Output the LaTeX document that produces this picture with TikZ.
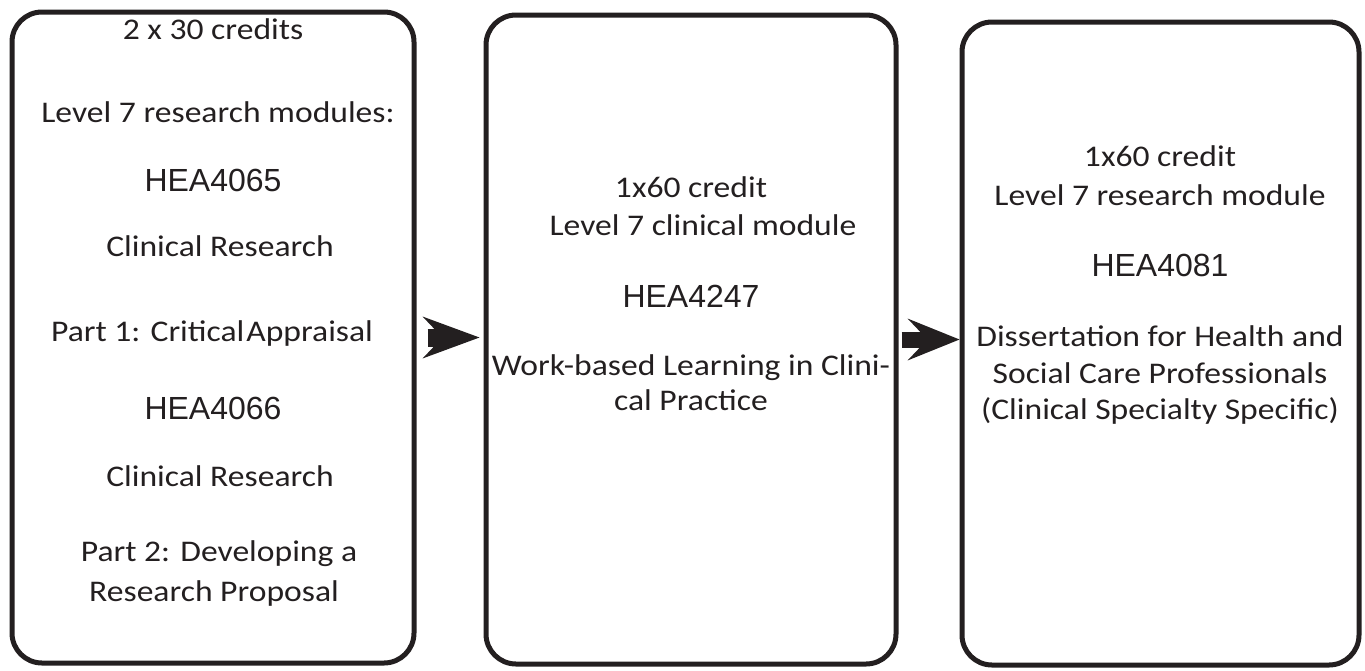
\documentclass[tikz,border=0pt]{standalone}
\usepackage{fontspec}
\setmainfont[FakeStretch=1.12]{Carlito}
\newfontfamily\arialf{Liberation Sans}
\usetikzlibrary{arrows.meta}
\definecolor{ink}{HTML}{231F20}
\tikzset{
  box/.style={draw=ink, line width=5pt, rounded corners=30pt, inner sep=0pt},
  txt/.style={anchor=base, text=ink, inner sep=0pt, font=\fontsize{30}{36}\selectfont},
  code/.style={anchor=base, text=ink, inner sep=0pt, font=\arialf\fontsize{32}{38}\selectfont},
  bigarrow/.style={draw=ink, -{Stealth[length=#1, width=42pt, inset=20pt, line width=0pt, fill=ink]}}
}
\begin{document}
\begin{tikzpicture}[x=1pt,y=-1pt]
\useasboundingbox (0,0) rectangle (1365,670);
% boxes
\node[box, minimum width=402pt, minimum height=651pt] (b1) at (213,337.5) {};
\node[box, minimum width=410pt, minimum height=649pt] (b2) at (691,339.5) {};
\node[box, minimum width=397pt, minimum height=643pt] (b3) at (1160.5,343.5) {};
% box 1 text
\node[txt] (t11) at (213,39) {2 x 30 credits};
\node[txt] (t12) at (218,122) {Level 7 research modules:};
\node[code] (t13) at (213,191) {HEA4065};
\node[txt] (t14) at (220,256) {Clinical Research};
\node[txt] (t15) at (212,341) {Part 1: Critical\hspace{2pt}Appraisal};
\node[code] (t16) at (213,419) {HEA4066};
\node[txt] (t17) at (220,486) {Clinical Research};
\node[txt] (t18) at (219,561) {Part 2: Developing a};
\node[txt] (t19) at (214,601) {Research Proposal};
% box 2 text
\node[txt] (t21) at (691,197) {1x60 credit};
\node[txt] (t22) at (703,235) {Level 7 clinical module};
\node[code] (t23) at (691,307) {HEA4247};
\node[txt] (t24) at (691,375) {Work-based Learning in Clini-};
\node[txt] (t25) at (691,410) {cal Practice};
% box 3 text
\node[txt] (t31) at (1160,166) {1x60 credit};
\node[txt] (t32) at (1160,205) {Level 7 research module};
\node[code] (t33) at (1160,276) {HEA4081};
\node[txt] (t34) at (1160,346) {Dissertation for Health and};
\node[txt] (t35) at (1160,383) {Social Care Professionals};
\node[txt] (t36) at (1160,419) {(Clinical Specialty Specific)};
% arrows
\draw[bigarrow=57pt, line width=18pt, shorten <=11pt, shorten >=4pt] (b1.east) -- (b2.west |- b1.east);
\draw[bigarrow=52pt, line width=16pt, shorten <=3pt] (b2.east) -- (b3.west |- b2.east);
\end{tikzpicture}
\end{document}
